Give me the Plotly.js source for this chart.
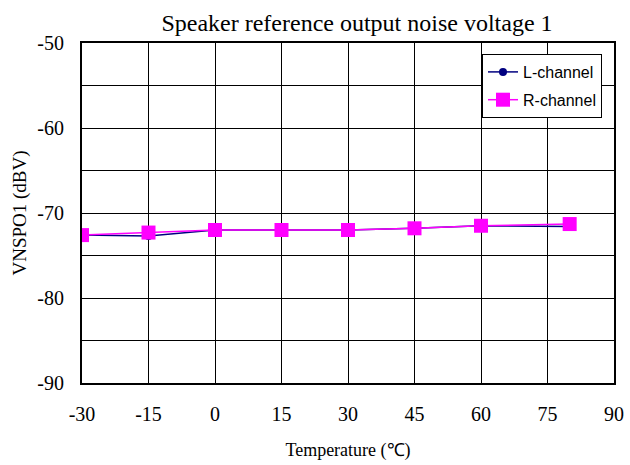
<!DOCTYPE html>
<html>
<head>
<meta charset="utf-8">
<script src="https://cdn.plot.ly/plotly-3.0.1.min.js"></script>
<style>html,body{margin:0;padding:0;background:#fff;}#chart{width:630px;height:465px;}</style>
</head>
<body>
<div id="chart"></div>
<script>
var temperature = [-30, -15, 0, 15, 30, 45, 60, 80];
var lChannel = [-72.6, -72.7, -72.0, -72.0, -72.0, -71.8, -71.5, -71.6];
var rChannel = [-72.6, -72.3, -72.0, -72.0, -72.0, -71.8, -71.5, -71.3];
var xTicks = [-30, -15, 0, 15, 30, 45, 60, 75, 90];
var yTicks = [-90, -80, -70, -60, -50];

var serif = '"Liberation Serif", "Times New Roman", serif';
var traces = [
  {x: temperature, y: lChannel, name: 'L-channel', type: 'scatter', mode: 'lines+markers', legendgroup: 'L',
   line: {color: '#000080', width: 1.5}, marker: {symbol: 'circle', size: 8, color: '#000080'}},
  {x: temperature, y: rChannel, name: 'R-channel', type: 'scatter', mode: 'lines+markers', legendgroup: 'R',
   line: {color: '#ff00ff', width: 1.5}, marker: {symbol: 'square', size: 14, color: '#ff00ff'}}
];
var layout = {
  width: 630, height: 465,
  margin: {l: 82, r: 16, t: 43, b: 82},
  paper_bgcolor: '#fff', plot_bgcolor: '#fff',
  font: {family: serif, size: 20, color: '#000'},
  title: {text: 'Speaker reference output noise voltage 1', font: {family: serif, size: 24, color: '#000'},
          x: 357/630, xref: 'container', xanchor: 'center', y: 1 - 23/465, yref: 'container', yanchor: 'middle'},
  xaxis: {range: [-30, 90], tickvals: xTicks, ticktext: xTicks.map(String), showgrid: true, gridcolor: '#000', gridwidth: 1,
          zeroline: false, showline: true, linecolor: '#000', linewidth: 2, mirror: true, ticks: '',
          ticklabelstandoff: 12, tickfont: {family: serif, size: 20, color: '#000'},
          title: {text: 'Temperature (℃)', font: {family: serif, size: 18, color: '#000'}, standoff: 19}},
  yaxis: {range: [-90, -50], tickvals: yTicks, ticktext: yTicks.map(String), showgrid: true, gridcolor: '#000', gridwidth: 1,
          minor: {dtick: 5, showgrid: true, gridcolor: '#000', gridwidth: 1, ticks: ''},
          zeroline: false, showline: true, linecolor: '#000', linewidth: 2, mirror: true, ticks: '',
          ticklabelstandoff: 12, tickfont: {family: serif, size: 20, color: '#000'},
          title: {text: 'VNSPO1 (dBV)', font: {family: serif, size: 19, color: '#000'}, standoff: 6}},
  showlegend: true,
  legend: {x: (482-82)/532, y: 1 - 11/340, xanchor: 'left', yanchor: 'top', bgcolor: '#fff', bordercolor: '#000', borderwidth: 1,
           font: {family: '"Liberation Sans", Arial, sans-serif', size: 16, color: '#000'}, tracegroupgap: 4,
           itemwidth: 30}
};
Plotly.newPlot('chart', traces, layout, {displayModeBar: false, staticPlot: true});
</script>
</body>
</html>
